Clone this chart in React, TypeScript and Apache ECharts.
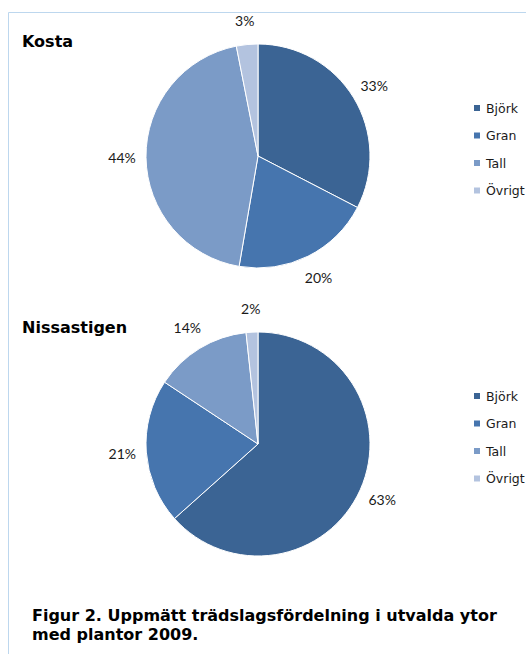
import React, { useEffect, useRef } from 'react';
import * as echarts from 'echarts';

const categories = ['Björk', 'Gran', 'Tall', 'Övrigt'];
const kostaValues = [32.6, 20.1, 44.2, 3.1];
const nissastigenValues = [63.4, 20.9, 14.0, 1.7];
const chartTitles = ['Kosta', 'Nissastigen'];
const captionLines = [
  'Figur 2. Uppmätt trädslagsfördelning i utvalda ytor',
  'med plantor 2009.',
];
const colors = ['#3B6494', '#4675AE', '#7B9BC7', '#B3C3DF'];

function makeData(values: number[], withColor: boolean) {
  return categories.map((name, i) => ({
    name,
    value: values[i],
    itemStyle: withColor ? { color: colors[i] } : { color: 'transparent', borderWidth: 0 },
  }));
}

function pieSeries(center: [number, number], values: number[]) {
  return {
    type: 'pie',
    center,
    radius: 112,
    startAngle: 90,
    clockwise: true,
    silent: true,
    label: { show: false },
    labelLine: { show: false },
    itemStyle: { borderColor: '#ffffff', borderWidth: 1 },
    data: makeData(values, true),
  };
}

function labelSeries(center: [number, number], values: number[]) {
  return {
    type: 'pie',
    center,
    radius: [122, 144],
    startAngle: 90,
    clockwise: true,
    silent: true,
    z: 3,
    itemStyle: { color: 'transparent', borderWidth: 0 },
    label: {
      show: true,
      position: 'inside',
      formatter: (p: any) => Math.round(p.percent) + '%',
      fontFamily: 'Lato',
      fontSize: 14,
      color: '#1a1a1a',
    },
    labelLine: { show: false },
    data: makeData(values, false),
  };
}

function legend(top: number) {
  return {
    orient: 'vertical',
    left: 467,
    top,
    padding: 5,
    icon: 'rect',
    itemWidth: 8,
    itemHeight: 8,
    itemGap: 11.5,
    selectedMode: false,
    data: categories,
    textStyle: { fontFamily: 'DejaVu Sans', fontSize: 12.5, lineHeight: 16, color: '#1a1a1a' },
  };
}

export default function App() {
  const ref = useRef<HTMLDivElement>(null);
  useEffect(() => {
    if (!ref.current) return;
    const chart = echarts.init(ref.current, undefined, { renderer: 'svg' });
    chart.setOption({
      animation: false,
      backgroundColor: '#ffffff',
      legend: [legend(95), legend(383)],
      graphic: [
        {
          type: 'rect',
          silent: true,
          z: -1,
          shape: { x: 8.5, y: 12.5, width: 700, height: 800 },
          style: { fill: 'none', stroke: '#BDD7EE', lineWidth: 1 },
        },
        {
          type: 'text',
          x: 22,
          y: 41,
          style: {
            text: chartTitles[0],
            font: 'bold 16px "DejaVu Sans"',
            fill: '#000',
            verticalAlign: 'middle',
          },
        },
        {
          type: 'text',
          x: 22,
          y: 327,
          style: {
            text: chartTitles[1],
            font: 'bold 16px "DejaVu Sans"',
            fill: '#000',
            verticalAlign: 'middle',
          },
        },
        {
          type: 'text',
          x: 32,
          y: 615,
          style: {
            text: captionLines[0],
            font: 'bold 16px "DejaVu Sans"',
            fill: '#000',
            verticalAlign: 'middle',
          },
        },
        {
          type: 'text',
          x: 32,
          y: 634,
          style: {
            text: captionLines[1],
            font: 'bold 16px "DejaVu Sans"',
            fill: '#000',
            verticalAlign: 'middle',
          },
        },
      ],
      series: [
        pieSeries([258, 156], kostaValues),
        pieSeries([258, 444], nissastigenValues),
        labelSeries([258, 156], kostaValues),
        labelSeries([258, 444], nissastigenValues),
      ],
    });
    return () => chart.dispose();
  }, []);
  return (
    <div
      ref={ref}
      style={{ position: 'fixed', left: 0, top: 0, width: 526, height: 654 }}
    />
  );
}
